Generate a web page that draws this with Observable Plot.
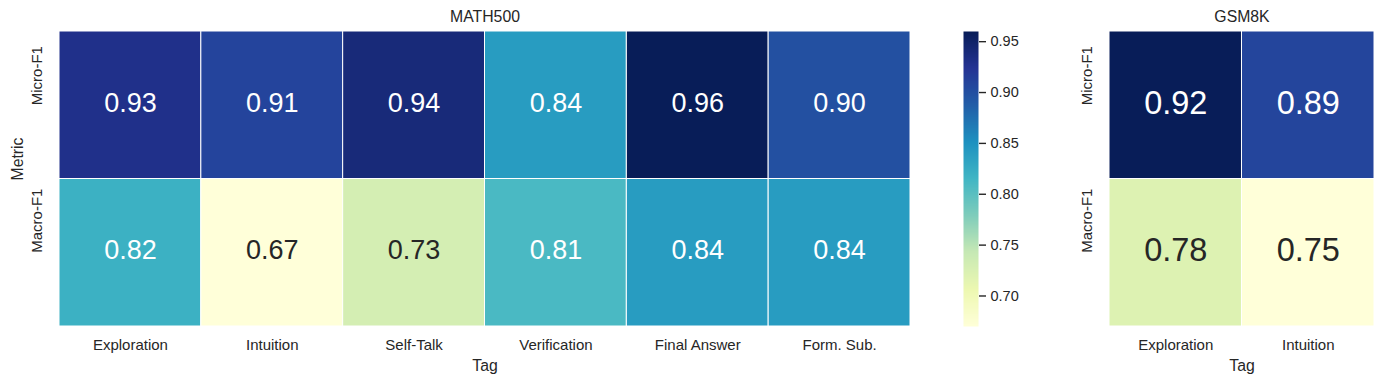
<!DOCTYPE html>
<html><head><meta charset="utf-8">
<script src="https://cdn.jsdelivr.net/npm/d3@7"></script>
<script src="https://cdn.jsdelivr.net/npm/@observablehq/plot@0.6"></script>
<style>
body{margin:0;background:#fff;}
#root{position:relative;width:1384px;height:384px;overflow:hidden;}
#root svg{position:absolute;top:0;}
</style></head><body><div id="root"></div>
<script>
const metrics = ["Micro-F1", "Macro-F1"];
const mathTags = ["Exploration", "Intuition", "Self-Talk", "Verification", "Final Answer", "Form. Sub."];
const mathMicro = [0.93, 0.91, 0.94, 0.84, 0.96, 0.90];
const mathMacro = [0.82, 0.67, 0.73, 0.81, 0.84, 0.84];
const gsmTags = ["Exploration", "Intuition"];
const gsmMicro = [0.92, 0.89];
const gsmMacro = [0.78, 0.75];
const colorbarTicks = [0.70, 0.75, 0.80, 0.85, 0.90, 0.95];
const ylgnbu = ["#ffffd9", "#edf8b1", "#c7e9b4", "#7fcdbb", "#41b6c4", "#1d91c0", "#225ea8", "#253494", "#081d58"];

const FONT = '"Liberation Sans", Arial, sans-serif';
const DARK = "#262626";
const TICK = 15;
const interp = d3.piecewise(d3.interpolateRgb, ylgnbu);

function toRows(tags, micro, macro) {
  return metrics.flatMap((m, i) => tags.map((t, j) => ({tag: t, metric: m, value: (i === 0 ? micro : macro)[j]})));
}
function lum(c) {
  const {r, g, b} = d3.rgb(c);
  const f = v => { v /= 255; return v <= 0.03928 ? v / 12.92 : Math.pow((v + 0.055) / 1.055, 2.4); };
  return 0.2126 * f(r) + 0.7152 * f(g) + 0.0722 * f(b);
}

function heatmap({data, tags, title, width, left, marginLeft, marginRight, annSize, colorOpts}) {
  const scale = Plot.scale({color: colorOpts});
  const svg = Plot.plot({
    width, height: 384,
    marginLeft, marginRight, marginTop: 31, marginBottom: 58,
    style: {fontFamily: FONT, fontSize: TICK + "px", color: DARK, background: "transparent"},
    x: {domain: tags, padding: 0, round: false},
    y: {domain: metrics, padding: 0, round: false, axis: null},
    color: colorOpts,
    marks: [
      Plot.cell(data, {x: "tag", y: "metric", fill: "value", stroke: "white", strokeWidth: 1}),
      Plot.text(data, {x: "tag", y: "metric", text: d => d.value.toFixed(2), fontSize: annSize, dy: -2,
        fill: d => lum(scale.apply(d.value)) > 0.408 ? DARK : "white"}),
      Plot.axisX({tickSize: 0, tickPadding: 13, label: null, fontSize: TICK, color: DARK}),
      Plot.text(metrics, {y: d => d, frameAnchor: "left", dx: -22, rotate: -90, fontSize: TICK, fill: DARK}),
      Plot.text(["Metric"].filter(() => title === "MATH500"), {frameAnchor: "left", dx: 17 - marginLeft, dy: 1.5, rotate: -90, fontSize: 15.8, fill: DARK}),
      Plot.text(["Tag"], {frameAnchor: "bottom", lineAnchor: "top", dy: 33, fontSize: 15.8, fill: DARK}),
      Plot.text([title], {frameAnchor: "top", lineAnchor: "top", dy: -21, fontSize: 15.8, fill: DARK})
    ]
  });
  svg.style.left = left + "px";
  return svg;
}

const root = document.getElementById("root");
const mathData = toRows(mathTags, mathMicro, mathMacro);
const gsmData = toRows(gsmTags, gsmMicro, gsmMacro);
const mathColor = {type: "linear", domain: d3.extent(mathData, d => d.value), interpolate: interp};
const gsmColor = {type: "linear", domain: d3.extent(gsmData, d => d.value), interpolate: interp};

root.appendChild(heatmap({data: mathData, tags: mathTags, title: "MATH500", width: 940, left: 0, marginLeft: 59, marginRight: 30, annSize: 27, colorOpts: mathColor}));

// colorbar for MATH500
const [lo, hi] = mathColor.domain;
const cb = Plot.plot({
  width: 100, height: 384,
  marginLeft: 23, marginRight: 62, marginTop: 31, marginBottom: 58,
  style: {fontFamily: FONT, fontSize: "14.5px", color: DARK, background: "transparent"},
  x: {domain: [0, 1], axis: null},
  y: {domain: [lo, hi], axis: null},
  color: mathColor,
  marks: [
    Plot.raster({x1: 0, x2: 1, y1: lo, y2: hi, width: 1, height: 295, fill: (x, y) => y}),
    Plot.axisY({anchor: "right", ticks: colorbarTicks, tickFormat: ".2f", tickSize: 7, tickPadding: 5, strokeWidth: 1.4, label: null, color: DARK, fontSize: 14.5})
  ]
});
cb.style.left = "940px";
root.appendChild(cb);

root.appendChild(heatmap({data: gsmData, tags: gsmTags, title: "GSM8K", width: 344, left: 1040, marginLeft: 69, marginRight: 10, annSize: 32.5, colorOpts: gsmColor}));
</script></body></html>
